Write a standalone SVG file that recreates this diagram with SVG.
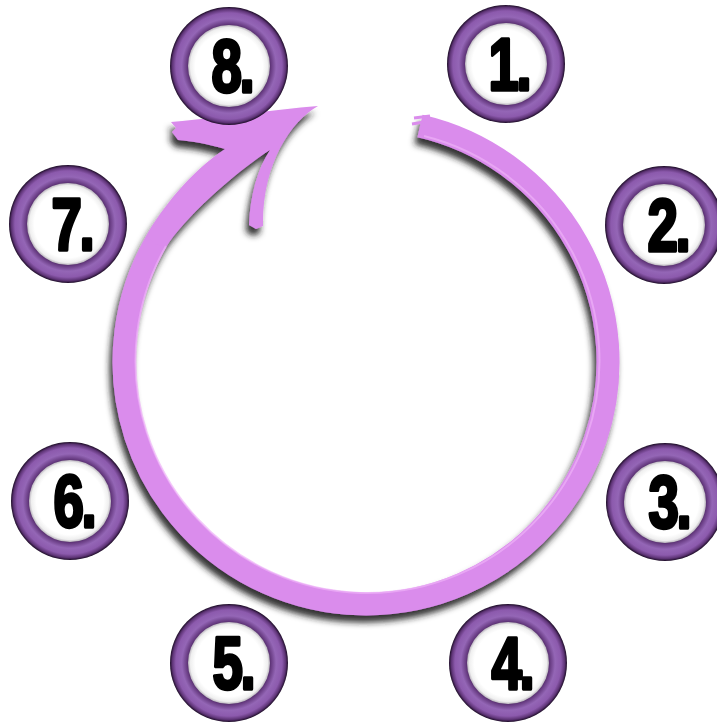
<svg xmlns="http://www.w3.org/2000/svg" width="717" height="725" viewBox="0 0 717 725">
  <defs>
    <radialGradient id="ring" cx="50%" cy="50%" r="50%">
      <stop offset="0.66" stop-color="#3a1c4c"/>
      <stop offset="0.71" stop-color="#65397f"/>
      <stop offset="0.80" stop-color="#9466b6"/>
      <stop offset="0.90" stop-color="#8c5aad"/>
      <stop offset="0.96" stop-color="#5e3476"/>
      <stop offset="1" stop-color="#1c0c26"/>
    </radialGradient>
    <radialGradient id="face" cx="50%" cy="50%" r="50%">
      <stop offset="0.82" stop-color="#ffffff"/>
      <stop offset="0.94" stop-color="#efefef"/>
      <stop offset="1" stop-color="#b9b3bd"/>
    </radialGradient>
    <filter id="shadow" x="-20%" y="-20%" width="140%" height="140%">
      <feDropShadow dx="-3" dy="7" stdDeviation="3" flood-color="#1a1a1a" flood-opacity="0.9"/>
    </filter>
  </defs>
  <style>
    .ring { fill: url(#ring); }
    .face { fill: url(#face); }
    .num { font-family: "Liberation Sans", "DejaVu Sans", sans-serif; font-weight: bold; font-size: 74px; fill: #000; stroke: #000; stroke-width: 3.5; stroke-linejoin: round; text-anchor: middle; letter-spacing: -3px; }
    .arc { fill: none; stroke: #da8cec; stroke-width: 23; }
    .hl { fill: none; stroke: #eeb0f8; stroke-width: 2; opacity: 0.7; }
    .head { fill: #da8cec; }
  </style>

  <g id="connectors">
    <g filter="url(#shadow)">
      <path class="arc" d="M 420 126 A 242 242 0 1 1 156.4 241"/>
      <path class="head" d="M 146.4 235.3 C 161.4 209.3 190 172 225 149 C 208 144 192 141 178 140 L 172 132 L 176 128 L 171 122 C 215 118 270 110 318 106 C 290 122 262 165 263 226 L 256 229 L 249 225 C 250 195 258 168 270 150 C 235 172 181.4 220.8 166.4 246.8 L 155 244 Z"/>
    </g>
    <path class="hl" d="M 424 136 A 232 232 0 1 1 166 246"/>
    <path d="M 414 118 L 430 116 M 412 124 L 424 122" stroke="#da8cec" stroke-width="3" fill="none"/>
  </g>

  <g id="step-8">
    <circle class="ring" cx="229" cy="66" r="59"/>
    <circle class="face" cx="229" cy="66" r="41"/>
    <text class="num" transform="translate(232 92) scale(0.74 1)">8.</text>
  </g>
  <g id="step-1">
    <circle class="ring" cx="506" cy="64" r="59"/>
    <circle class="face" cx="506" cy="64" r="41"/>
    <text class="num" transform="translate(509 90) scale(0.74 1)">1.</text>
  </g>
  <g id="step-2">
    <circle class="ring" cx="664" cy="225" r="59"/>
    <circle class="face" cx="664" cy="225" r="41"/>
    <text class="num" transform="translate(668 251) scale(0.74 1)">2.</text>
  </g>
  <g id="step-3">
    <circle class="ring" cx="665" cy="502" r="59"/>
    <circle class="face" cx="665" cy="502" r="41"/>
    <text class="num" transform="translate(669 528) scale(0.74 1)">3.</text>
  </g>
  <g id="step-4">
    <circle class="ring" cx="508" cy="663" r="59"/>
    <circle class="face" cx="508" cy="663" r="41"/>
    <text class="num" transform="translate(512 689) scale(0.74 1)">4.</text>
  </g>
  <g id="step-5">
    <circle class="ring" cx="229" cy="663" r="59"/>
    <circle class="face" cx="229" cy="663" r="41"/>
    <text class="num" transform="translate(233 689) scale(0.74 1)">5.</text>
  </g>
  <g id="step-6">
    <circle class="ring" cx="70" cy="501" r="59"/>
    <circle class="face" cx="70" cy="501" r="41"/>
    <text class="num" transform="translate(74 527) scale(0.74 1)">6.</text>
  </g>
  <g id="step-7">
    <circle class="ring" cx="68" cy="224" r="59"/>
    <circle class="face" cx="68" cy="224" r="41"/>
    <text class="num" transform="translate(72 250) scale(0.74 1)">7.</text>
  </g>
</svg>
